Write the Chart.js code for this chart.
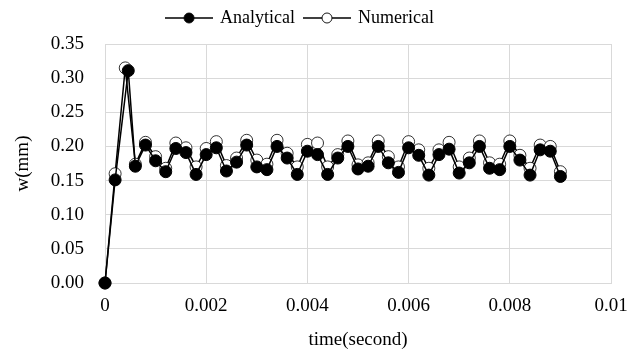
<!DOCTYPE html>
<html><head><meta charset="utf-8">
<script src="https://cdn.jsdelivr.net/npm/chart.js@4.4.0/dist/chart.umd.min.js"></script>
<style>html,body{margin:0;padding:0;background:#fff;}#wrap{width:641px;height:350px;}</style>
</head><body><div id="wrap"><canvas id="c" width="641" height="350"></canvas></div>
<script>
// ---- data ----
const seriesNames = ['Analytical', 'Numerical'];
const timeNumerical = [0,0.0002,0.0004,0.0006,0.0008,0.001,0.0012,0.0014,0.0016,0.0018,0.002,0.0022,0.0024,0.0026,0.0028,0.003,0.0032,0.0034,0.0036,0.0038,0.004,0.0042,0.0044,0.0046,0.0048,0.005,0.0052,0.0054,0.0056,0.0058,0.006,0.0062,0.0064,0.0066,0.0068,0.007,0.0072,0.0074,0.0076,0.0078,0.008,0.0082,0.0084,0.0086,0.0088,0.009];
const timeAnalytical = [0,0.0002,0.00046,0.0006,0.0008,0.001,0.0012,0.0014,0.0016,0.0018,0.002,0.0022,0.0024,0.0026,0.0028,0.003,0.0032,0.0034,0.0036,0.0038,0.004,0.0042,0.0044,0.0046,0.0048,0.005,0.0052,0.0054,0.0056,0.0058,0.006,0.0062,0.0064,0.0066,0.0068,0.007,0.0072,0.0074,0.0076,0.0078,0.008,0.0082,0.0084,0.0086,0.0088,0.009];
const analytical = [0.000,0.151,0.311,0.171,0.202,0.179,0.163,0.197,0.191,0.159,0.188,0.198,0.164,0.177,0.202,0.170,0.166,0.200,0.183,0.159,0.193,0.188,0.159,0.183,0.200,0.167,0.171,0.200,0.176,0.162,0.198,0.187,0.158,0.188,0.196,0.161,0.176,0.200,0.168,0.166,0.200,0.180,0.158,0.195,0.193,0.156];
const numerical = [0.000,0.160,0.315,0.174,0.206,0.185,0.168,0.205,0.198,0.170,0.197,0.207,0.172,0.183,0.209,0.180,0.174,0.209,0.190,0.170,0.203,0.205,0.170,0.188,0.208,0.173,0.176,0.208,0.185,0.170,0.207,0.195,0.168,0.195,0.206,0.170,0.183,0.208,0.176,0.174,0.208,0.187,0.168,0.202,0.200,0.163];
const xTickValues = [0,0.002,0.004,0.006,0.008,0.01];
const xTickLabels = ['0','0.002','0.004','0.006','0.008','0.01'];
const yTickValues = [0,0.05,0.10,0.15,0.20,0.25,0.30,0.35];
const yTickLabels = ['0.00','0.05','0.10','0.15','0.20','0.25','0.30','0.35'];
const xTitle = 'time(second)';
const yTitle = 'w(mm)';

// ---- styling / layout ----
const FONT = 'Liberation Serif';
const FS = 19;
const LFS = 18;
const GRID = '#d9d9d9';

function legendIcon(filled) {
  const c = document.createElement('canvas');
  c.width = 48; c.height = 14;
  const g = c.getContext('2d');
  g.strokeStyle = '#000'; g.lineWidth = 1.5;
  g.beginPath(); g.moveTo(0, 7); g.lineTo(48, 7); g.stroke();
  g.beginPath(); g.arc(24, 7, 5, 0, Math.PI * 2);
  g.fillStyle = filled ? '#000' : '#fff'; g.fill();
  g.lineWidth = 0.9; g.stroke();
  return c;
}
const icons = [legendIcon(true), legendIcon(false)];

const toPts = (xs, ys) => xs.map((x, i) => ({x: x, y: ys[i]}));

const shiftLegend = {
  id: 'shiftLegend',
  afterLayout(chart) {
    const lg = chart.legend;
    if (lg) { lg.left -= 20; lg.right -= 20; lg.top -= 7; lg.bottom -= 7; }
  }
};

new Chart(document.getElementById('c'), {
  type: 'scatter',
  data: {
    datasets: [
      {label: seriesNames[0], data: toPts(timeAnalytical, analytical), showLine: true, clip: false,
       borderColor: '#000', borderWidth: 1.5, pointRadius: 6, pointBackgroundColor: '#000',
       pointBorderColor: '#000', pointBorderWidth: 1},
      {label: seriesNames[1], data: toPts(timeNumerical, numerical), showLine: true, clip: false,
       borderColor: '#000', borderWidth: 1.5, pointRadius: 6, pointBackgroundColor: '#fff',
       pointBorderColor: '#000', pointBorderWidth: 0.8}
    ]
  },
  plugins: [shiftLegend],
  options: {
    responsive: false, animation: false, devicePixelRatio: 1,
    layout: {padding: {top: 0, left: 0, right: 0, bottom: 0}},
    plugins: {
      tooltip: {enabled: false},
      legend: {
        display: true, position: 'top',
        labels: {
          usePointStyle: true, pointStyleWidth: 44, padding: 10,
          color: '#000', font: {family: FONT, size: LFS},
          generateLabels: (chart) => seriesNames.map((n, i) => ({
            text: n, pointStyle: icons[i], fillStyle: '#000', strokeStyle: '#000',
            lineWidth: 0, hidden: false, datasetIndex: i, fontColor: '#000'
          }))
        }
      }
    },
    scales: {
      x: {
        type: 'linear', min: 0, max: 0.01,
        afterBuildTicks: (s) => { s.ticks = xTickValues.map(v => ({value: v})); },
        afterFit: (s) => { s.height = 67; s.paddingLeft = 0; s.paddingRight = 30; },
        ticks: {callback: (v, i) => xTickLabels[i], color: '#000', font: {family: FONT, size: FS}, padding: 12, maxRotation: 0, autoSkip: false},
        grid: {color: GRID, lineWidth: 1, drawTicks: false},
        border: {color: GRID, width: 1},
        title: {display: true, text: xTitle, color: '#000', font: {family: FONT, size: FS, lineHeight: 1.0}, padding: {top: 0, bottom: 0}}
      },
      y: {
        type: 'linear', min: 0, max: 0.35,
        afterBuildTicks: (s) => { s.ticks = yTickValues.map(v => ({value: v})); },
        afterFit: (s) => { s.width = 105; s.paddingTop = 44; s.paddingBottom = 0; },
        ticks: {callback: (v, i) => yTickLabels[i], color: '#000', font: {family: FONT, size: FS}, padding: 21, autoSkip: false},
        grid: {color: GRID, lineWidth: 1, drawTicks: false},
        border: {color: GRID, width: 1},
        title: {display: true, text: yTitle, color: '#000', font: {family: FONT, size: FS}, padding: {top: 12, bottom: 0}}
      }
    }
  }
});
</script></body></html>
